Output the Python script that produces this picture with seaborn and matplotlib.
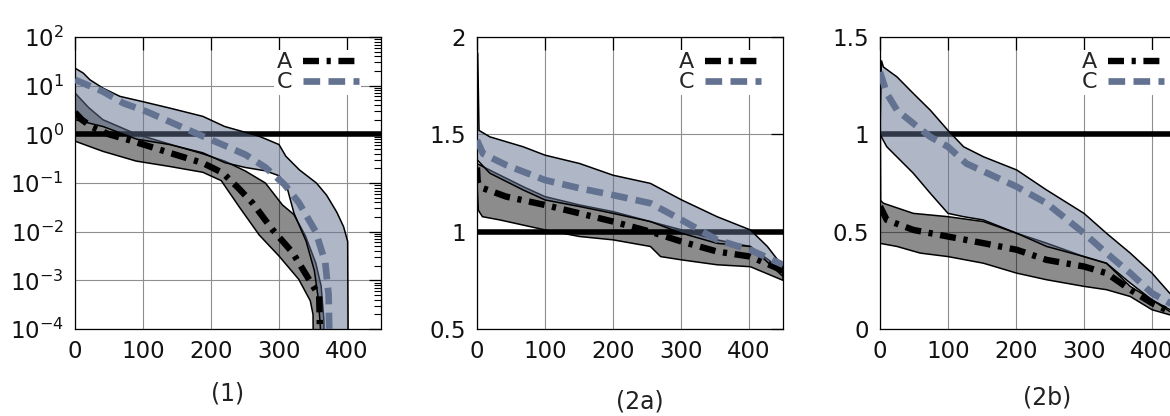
import numpy as np
import matplotlib
matplotlib.use("Agg")
import matplotlib.pyplot as plt
import seaborn as sns
from matplotlib.ticker import FuncFormatter, LogLocator, NullFormatter, FixedLocator

# ---------------- data ----------------
# Panel (1) -- log scale
p1_c_up_x = [0, 12, 22, 41, 66, 100, 139, 188, 220, 271, 300, 310, 330, 355, 370, 385, 395, 401, 402]
p1_c_up_y = [22.9, 18.2, 13.2, 8.91, 6.03, 4.68, 3.47, 2.34, 1.45, 0.912, 0.617, 0.355, 0.186, 0.1,
             0.0562, 0.0251, 0.0126, 0.0063, 1e-5]
p1_c_mean_x = [0, 41, 71, 105, 139, 188, 220, 251, 280, 308, 329, 354, 368, 373, 375]
p1_c_mean_y = [13.2, 7.59, 4.37, 2.95, 1.82, 0.912, 0.589, 0.380, 0.209, 0.0933, 0.0398, 0.01,
               0.00234, 0.0005, 1e-5]
p1_c_lo_x = [0, 41, 91, 139, 188, 220, 250, 280, 300, 312, 322, 340, 352, 358, 361, 362]
p1_c_lo_y = [2.0, 1.45, 0.794, 0.617, 0.417, 0.263, 0.209, 0.178, 0.141, 0.0794, 0.024, 0.0063,
             0.00158, 0.0004, 0.0001, 1e-5]
p1_a_up_x = [0, 20, 41, 91, 139, 188, 220, 250, 280, 305, 322, 339, 354, 362, 366, 367]
p1_a_up_y = [7.08, 3.55, 2.0, 1.0, 0.631, 0.398, 0.282, 0.178, 0.1, 0.0355, 0.0224, 0.00813,
             0.00229, 0.000759, 0.000158, 1e-5]
p1_a_mean_x = [0, 10, 25, 50, 80, 110, 139, 188, 217, 240, 261, 290, 320, 344, 359, 362]
p1_a_mean_y = [2.82, 2.0, 1.41, 1.0, 0.759, 0.562, 0.417, 0.257, 0.162, 0.0794, 0.0389, 0.0112,
               0.00372, 0.00105, 0.000479, 1e-5]
p1_a_lo_x = [0, 41, 90, 139, 188, 215, 242, 271, 300, 329, 346, 350, 351]
p1_a_lo_y = [0.724, 0.447, 0.282, 0.219, 0.166, 0.112, 0.0316, 0.00851, 0.00316, 0.00105,
             0.00038, 0.0002, 1e-5]

# Panel (2a)
p2_c_up_x = [0, 1, 3, 19, 68, 100, 151, 200, 255, 301, 353, 402, 427, 450]
p2_c_up_y = [1.50, 1.92, 1.52, 1.487, 1.436, 1.393, 1.35, 1.29, 1.248, 1.163, 1.077, 1.009, 0.924, 0.82]
p2_c_mean_x = [0, 9, 43, 100, 151, 200, 255, 301, 353, 402, 450]
p2_c_mean_y = [1.47, 1.40, 1.342, 1.265, 1.223, 1.188, 1.146, 1.06, 0.958, 0.906, 0.83]
p2_c_lo_x = [0, 19, 68, 100, 151, 200, 255, 301, 353, 402, 450]
p2_c_lo_y = [1.37, 1.30, 1.214, 1.163, 1.129, 1.094, 1.052, 0.992, 0.94, 0.924, 0.77]
p2_a_up_x = [0, 19, 68, 100, 151, 200, 255, 301, 353, 402, 450]
p2_a_up_y = [1.35, 1.316, 1.231, 1.18, 1.137, 1.103, 1.052, 1.009, 0.958, 0.924, 0.80]
p2_a_mean_x = [0, 1, 3, 9, 43, 100, 151, 200, 255, 301, 353, 402, 450]
p2_a_mean_y = [1.33, 1.26, 1.24, 1.223, 1.18, 1.137, 1.094, 1.052, 1.0, 0.949, 0.898, 0.872, 0.80]
p2_a_lo_x = [0, 2, 8, 34, 100, 151, 200, 255, 270, 301, 353, 402, 450]
p2_a_lo_y = [1.25, 1.11, 1.077, 1.06, 1.009, 0.975, 0.958, 0.924, 0.872, 0.855, 0.83, 0.82, 0.75]

# Panel (2b)
p3_c_up_x = [0, 2, 5, 25, 49, 74, 100, 123, 152, 201, 245, 300, 333, 368, 400, 426, 450]
p3_c_up_y = [1.0, 1.38, 1.346, 1.295, 1.21, 1.124, 1.02, 0.936, 0.885, 0.817, 0.714, 0.594, 0.492,
             0.39, 0.287, 0.184, 0.12]
p3_c_mean_x = [0, 10, 25, 49, 74, 100, 127, 201, 245, 300, 333, 368, 400, 426, 450]
p3_c_mean_y = [1.32, 1.21, 1.124, 1.056, 0.987, 0.936, 0.85, 0.731, 0.646, 0.492, 0.39, 0.287,
               0.184, 0.133, 0.09]
p3_c_lo_x = [0, 10, 49, 74, 100, 123, 152, 201, 245, 300, 333, 368, 400, 426, 450]
p3_c_lo_y = [1.0, 0.936, 0.8, 0.697, 0.594, 0.577, 0.56, 0.492, 0.424, 0.372, 0.338, 0.236, 0.15,
             0.1, 0.07]
p3_a_up_x = [0, 1, 5, 49, 100, 152, 201, 245, 300, 333, 368, 400, 426, 450]
p3_a_up_y = [1.48, 0.66, 0.646, 0.594, 0.577, 0.552, 0.492, 0.441, 0.372, 0.338, 0.219, 0.15, 0.09, 0.06]
p3_a_mean_x = [0, 10, 49, 100, 152, 201, 245, 300, 333, 368, 400, 426, 450]
p3_a_mean_y = [0.63, 0.56, 0.509, 0.475, 0.441, 0.407, 0.355, 0.321, 0.287, 0.202, 0.133, 0.09, 0.06]
p3_a_lo_x = [0, 25, 59, 100, 152, 201, 245, 300, 333, 368, 400, 426, 450]
p3_a_lo_y = [0.44, 0.424, 0.39, 0.372, 0.338, 0.287, 0.253, 0.219, 0.202, 0.167, 0.099, 0.073, 0.05]

series_labels = ["A", "C"]
panel_titles = ["(1)", "(2a)", "(2b)"]
x_ticks = [0, 100, 200, 300, 400]
p2_y_ticks = [0.5, 1, 1.5, 2]
p3_y_ticks = [0, 0.5, 1, 1.5]
ref_level = 1.0

# ---------------- style ----------------
sns.set_theme(style="white")
plt.rcParams["font.family"] = ["DejaVu Sans"]
plt.rcParams["lines.scale_dashes"] = False
plt.rcParams["axes.edgecolor"] = "black"
plt.rcParams["axes.linewidth"] = 0.9

A_FILL = (0, 0, 0, 0.45)
C_RGB = (97 / 255, 113 / 255, 145 / 255)
C_FILL = C_RGB + (0.5,)
C_LINE = "#627290"
A_STYLE = (0, (11.5, 5.5, 3, 5.5))
C_STYLE = (0, (12, 6))

fig = plt.figure(figsize=(11.7, 4.16), dpi=100)
W, H = 1170, 416
axes = [
    fig.add_axes([75 / W, 1 - 329 / H, 306 / W, 292 / H]),
    fig.add_axes([477 / W, 1 - 329 / H, 306 / W, 292 / H]),
    fig.add_axes([880 / W, 1 - 329 / H, 306 / W, 292 / H]),
]

panels = [
    (p1_a_up_x, p1_a_up_y, p1_a_mean_x, p1_a_mean_y, p1_a_lo_x, p1_a_lo_y,
     p1_c_up_x, p1_c_up_y, p1_c_mean_x, p1_c_mean_y, p1_c_lo_x, p1_c_lo_y),
    (p2_a_up_x, p2_a_up_y, p2_a_mean_x, p2_a_mean_y, p2_a_lo_x, p2_a_lo_y,
     p2_c_up_x, p2_c_up_y, p2_c_mean_x, p2_c_mean_y, p2_c_lo_x, p2_c_lo_y),
    (p3_a_up_x, p3_a_up_y, p3_a_mean_x, p3_a_mean_y, p3_a_lo_x, p3_a_lo_y,
     p3_c_up_x, p3_c_up_y, p3_c_mean_x, p3_c_mean_y, p3_c_lo_x, p3_c_lo_y),
]

title_pos = [(228, 393), (640, 402), (1047, 397)]

for i, (ax, d) in enumerate(zip(axes, panels)):
    (aux, auy, amx, amy, alx, aly, cux, cuy, cmx, cmy, clx, cly) = d
    if i == 0:
        ax.set_yscale("log")
    ax.set_axisbelow(True)
    ax.grid(True, which="major", color="#8f8f8f", lw=0.8)
    ax.axhline(ref_level, color="black", lw=4.0, zorder=1.5)

    # bands (polygon: upper curve then lower curve reversed)
    ax.fill(list(aux) + list(alx)[::-1], list(auy) + list(aly)[::-1],
            facecolor=A_FILL, edgecolor="black", lw=1.1, zorder=2)
    ax.fill(list(cux) + list(clx)[::-1], list(cuy) + list(cly)[::-1],
            facecolor=C_FILL, edgecolor="black", lw=1.1, zorder=2.1)

    sns.lineplot(x=amx, y=amy, ax=ax, color="black", lw=4.6, linestyle=A_STYLE,
                 sort=False, estimator=None, label=series_labels[0], zorder=3)
    sns.lineplot(x=cmx, y=cmy, ax=ax, color=C_LINE, lw=4.8, linestyle=C_STYLE,
                 sort=False, estimator=None, label=series_labels[1], zorder=3.1)

    ax.set_xlim(0, 450)
    ax.xaxis.set_major_locator(FixedLocator(x_ticks))
    if i == 0:
        ax.set_ylim(1e-4, 1e2)
        ax.yaxis.set_major_locator(LogLocator(base=10, numticks=10))
        ax.yaxis.set_minor_locator(LogLocator(base=10, subs=np.arange(2, 10), numticks=20))
        ax.yaxis.set_minor_formatter(NullFormatter())
    elif i == 1:
        ax.set_ylim(0.5, 2)
        ax.yaxis.set_major_locator(FixedLocator(p2_y_ticks))
        ax.yaxis.set_major_formatter(FuncFormatter(lambda v, p: f"{v:g}"))
    else:
        ax.set_ylim(0, 1.5)
        ax.yaxis.set_major_locator(FixedLocator(p3_y_ticks))
        ax.yaxis.set_major_formatter(FuncFormatter(lambda v, p: f"{v:g}"))

    ax.tick_params(which="both", direction="in", top=True, right=True,
                   colors="black", labelcolor="#111111")
    ax.tick_params(which="major", length=9, width=0.9, labelsize=16.5, pad=8)
    ax.tick_params(which="minor", length=5, width=0.8)
    for s in ax.spines.values():
        s.set_visible(True)
        s.set_color("black")
    ax.set_xlabel("")
    ax.set_ylabel("")

    handles, labels = ax.get_legend_handles_labels()
    leg = ax.legend(handles, labels, loc="upper right", bbox_to_anchor=(0.935, 0.955),
                    markerfirst=False, fontsize=16, handlelength=2.5, handletextpad=0.5,
                    labelspacing=0.0, borderpad=0.1, borderaxespad=0.0,
                    frameon=True, fancybox=False, framealpha=1.0)
    leg.get_frame().set_edgecolor("none")
    leg.get_frame().set_facecolor("white")
    leg.set_zorder(5)

    tx, ty = title_pos[i]
    fig.text(tx / W, 1 - ty / H, panel_titles[i], ha="center", va="center",
             fontsize=17, color="#222222")

fig.savefig("out.png", dpi=100)
